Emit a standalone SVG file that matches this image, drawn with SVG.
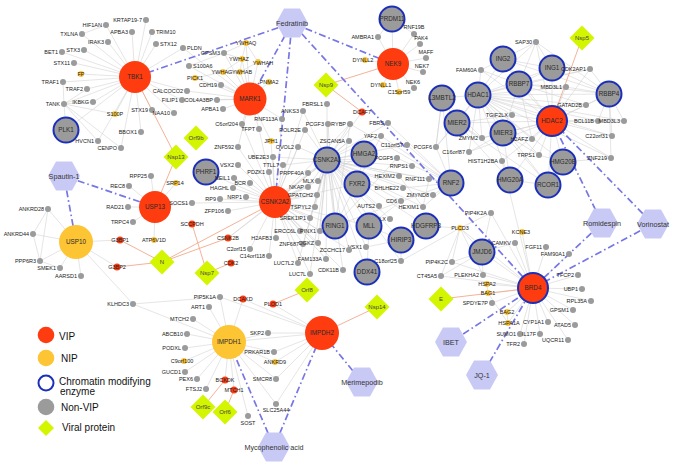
<svg xmlns="http://www.w3.org/2000/svg" xmlns:xlink="http://www.w3.org/1999/xlink" width="680" height="467" viewBox="0 0 680 467">
<style>
.gr{stroke:#cfcfcf;stroke-width:.55;fill:none}
.vr{stroke:#f3a98b;stroke-width:.9;fill:none}
.dr{stroke:#7676e4;stroke-width:1.7;stroke-dasharray:7 3 1.6 3;fill:none}
.g{fill:#9b9b9b}
.y{fill:#fdc434}
.r{fill:#fe3c10}
.cm{fill:#9b9b9b;stroke:#1b2fb9;stroke-width:2}
.rc{fill:#fe3c10;stroke:#1b2fb9;stroke-width:2}
text{font-family:"Liberation Sans",Arial,Helvetica,sans-serif;fill:#222}
.l{font-size:5.5px;text-anchor:end}
.rt{font-size:5.5px}
.c{font-size:5.5px;text-anchor:middle}
.B{font-size:6.3px;text-anchor:middle;fill:#2a2a2a}
.H{font-size:7.2px;text-anchor:middle;fill:#333}
.D{font-size:6px;text-anchor:middle;fill:#444}
.lg{font-size:10px;fill:#111}
</style>
<defs>
<polygon id="hx" points="-16,0 -8,-14.5 8,-14.5 16,0 8,14.5 -8,14.5"/>
<polygon id="dm" points="0,-12.5 12.5,0 0,12.5 -12.5,0"/>
</defs>
<rect width="680" height="467" fill="#fff"/>
<g id="connectors">
<g id="grey-edges" class="gr">
<path d="M135 77L146 20M135 77L106 25M135 77L132 32M135 77L152 32M135 77L82 34M135 77L108 42M135 77L156 44M135 77L62 52M135 77L84 50M135 77L74 63M135 77L81 74M135 77L63 82M135 77L87 89M135 77L93 102M135 77L64 104M135 77L115 114M135 77L152 110M135 77L141 132M135 77L98 141M135 77L121 148M135 77L187 91M135 77L182 100M135 77L174 113M135 77L183 48M135 77L66 130"/>
<path d="M64 104L63 82M64 104L87 89M64 104L93 102M64 104L98 141M64 104L121 148M64 104L66 130M64 104L115 114M106 25L82 34"/>
<path d="M250 99L246 43M250 99L224 53M250 99L242 59M250 99L258 62M250 99L189 66M250 99L223 72M250 99L240 72M250 99L195 78M250 99L221 85M250 99L269 82M250 99L223 109M250 99L217 100M250 99L182 100M250 99L187 91M250 99L183 48M250 99L242 124M250 99L259 129M250 99L238 147M250 99L271 141M250 99L282 119"/>
<path d="M246 43L242 59M246 43L258 62M242 59L223 72M242 59L240 72M258 62L240 72M223 72L240 72M224 53L246 43M224 53L242 59M195 78L223 72M189 66L224 53"/>
<path d="M393 64L392 19M393 64L414 34M393 64L378 37M393 64L420 44M393 64L426 58M393 64L365 60M393 64L423 72M393 64L383 85M393 64L414 88M393 64L399 92M392 19L414 34M392 19L378 37"/>
<path d="M275 202L273 157M275 202L283 165M275 202L269 172M275 202L308 173M275 202L234 178M275 202L250 183M275 202L233 188M275 202L246 197M275 202L220 199M275 202L228 211M275 202L310 218M275 202L317 195M275 202L315 207M275 202L308 187M275 202L318 181M275 202L300 231M275 202L320 231M275 202L276 238M275 202L228 238M275 202L250 249M275 202L303 244M275 202L318 243M275 202L269 256M275 202L326 259M275 202L298 263M275 202L310 274M275 202L343 270M275 202L349 250M275 202L238 165M275 202L206 172M275 202L327 160M275 202L335 226M275 202L364 154M275 202L357 184M275 202L369 226M275 202L298 147M275 202L271 141M275 202L259 129M275 202L305 130M275 202L282 119M275 202L303 111M275 202L238 147M275 202L242 124M275 202L349 141M275 202L350 124M275 202L192 203"/>
<path d="M327 160L273 157M327 160L283 165M327 160L308 173M327 160L308 187M327 160L318 181M327 160L317 195M327 160L315 207M327 160L310 218M327 160L320 231M327 160L318 243M327 160L303 244M327 160L326 259M327 160L310 274M327 160L298 263M327 160L343 270M327 160L349 250M327 160L327 104M327 160L303 111M327 160L305 130M327 160L328 124M327 160L298 147M327 160L349 141M327 160L350 124M327 160L388 123M327 160L381 136M327 160L407 145M327 160L364 154M327 160L397 158M327 160L412 166M327 160L399 176M327 160L357 184M327 160L403 188M327 160L401 201M327 160L379 206M327 160L423 207M327 160L433 195M327 160L429 179M327 160L335 226M327 160L369 226M327 160L390 219M327 160L401 240M327 160L366 247M327 160L401 261M327 160L367 272M327 160L426 226M327 160L451 183M327 160L362 112M327 160L228 238"/>
<path d="M335 226L451 183M335 226L328 124M335 226L397 158M451 183L397 158M451 183L436 147M451 183L350 124M451 183L381 136M451 183L388 123M451 183L442 98M451 183L407 145M451 183L423 207M451 183L429 179M451 183L433 195M436 147L442 98M436 147L457 123M335 226L381 136M335 226L350 124M423 207L399 176M423 207L429 179M401 240L366 247M401 240L401 261M369 226L401 240M369 226L367 272M357 184L364 154M401 201L369 226M403 188L451 183"/>
<path d="M460 228L491 213M460 228L452 262M460 228L426 226M460 228L482 252M460 228L441 276M460 228L483 275M460 228L401 261M482 252L491 213M482 252L515 243M482 252L483 275M482 252L441 276M482 252L452 262"/>
<path d="M533 288L522 232M533 288L515 243M533 288L546 247M533 288L569 254M533 288L578 275M533 288L582 289M533 288L591 301M533 288L573 310M533 288L548 322M533 288L575 325M533 288L520 334M533 288L540 334M533 288L524 344M533 288L568 340M533 288L508 323M533 288L507 312M533 288L487 284M533 288L488 293M533 288L492 303M533 288L483 275M533 288L452 262M533 288L441 276M533 288L491 213M533 288L460 228M533 288L482 252M533 288L502 161M487 284L488 293M507 312L508 323M488 293L508 323"/>
<path d="M552 121L536 42M552 121L552 68M552 121L590 69M552 121L519 84M552 121L566 87M552 121L609 94M552 121L586 105M552 121L598 121M552 121L624 121M552 121L532 139M552 121L612 136M552 121L539 155M552 121L611 158M552 121L563 162M552 121L510 180M552 121L548 185M552 121L457 123M552 121L503 133M552 121L478 95M552 121L503 59M552 121L481 70M552 121L512 115M552 121L482 138M552 121L469 152M552 121L502 161"/>
<path d="M478 95L536 42M478 95L552 68M478 95L503 59M478 95L519 84M478 95L609 94M478 95L566 87M478 95L586 105M478 95L590 69M478 95L481 70M478 95L442 98M478 95L457 123M478 95L503 133M478 95L512 115M478 95L482 138M478 95L469 152M478 95L436 147M478 95L532 139M478 95L539 155M478 95L510 180M478 95L563 162M478 95L548 185M478 95L598 121M478 95L611 158M478 95L624 121M478 95L612 136"/>
<path d="M609 94L536 42M609 94L552 68M609 94L503 59M609 94L519 84M609 94L566 87M609 94L586 105M609 94L590 69M609 94L624 121M609 94L598 121M609 94L612 136M609 94L611 158M519 84L536 42M519 84L552 68M519 84L503 59M519 84L566 87M519 84L586 105M519 84L590 69M519 84L481 70M519 84L503 133M519 84L532 139M552 68L536 42M552 68L503 59M503 59L536 42M503 59L481 70"/>
<path d="M457 123L482 138M457 123L510 180M457 123L548 185M457 123L512 115M457 123L442 98M503 133L482 138M503 133L510 180M503 133L548 185M503 133L469 152M503 133L539 155M563 162L548 185M510 180L548 185M563 162L611 158M563 162L539 155M442 98L482 138M442 98L436 147"/>
<path d="M155 207L151 176M155 207L129 186M155 207L128 207M155 207L133 222M155 207L154 240M155 207L192 203M155 207L176 183"/>
<path d="M76 242L48 209M76 242L33 234M76 242L40 261M76 242L60 268M76 242L81 276M76 242L120 240M76 242L117 267M76 242L133 304M48 209L33 234M48 209L40 261M33 234L40 261M40 261L60 268M133 304L229 342M133 304L220 297"/>
<path d="M229 342L193 319M229 342L187 334M229 342L185 348M229 342L184 361M229 342L185 372M229 342L197 379M229 342L206 389M229 342L225 380M229 342L234 390M229 342L248 416M229 342L276 404M229 342L276 379M229 342L275 362M229 342L274 352M229 342L268 333M229 342L220 297M229 342L209 307M229 342L243 299M229 342L322 333"/>
<path d="M322 333L268 333M322 333L274 352M322 333L275 362M322 333L276 379M322 333L276 404M322 333L273 304M322 333L243 299M322 333L220 297"/>
</g>
<g id="viral-edges" class="vr">
<path d="M582 38L552 121M326 85L393 64M326 85L362 112M176 157L135 77M176 157L155 207M162 262L120 240M162 262L117 267M162 262L228 238M162 262L275 202M207 273L192 224M207 273L231 263M307 290L273 304M377 307L322 333M441 299L533 288M203 407L225 380M225 412L234 390"/>
</g>
<g id="drug-edges" class="dr">
<path d="M292 23L135 77M292 23L250 99M292 23L275 202M292 23L393 64M292 23L533 288"/>
<path d="M64 176L155 207M64 176L76 242"/>
<path d="M602 223L552 121M602 223L533 288M653 224L552 121M653 224L533 288"/>
<path d="M451 342L533 288M482 375L533 288M362 382L322 333M274 447L229 342M274 447L322 333"/>
</g>
</g>
<g id="nodes">
<g id="n-TBK1"><circle class="r" cx="135" cy="77" r="16"/><text class="B" x="135" y="79.2">TBK1</text></g>
<g id="n-KRTAP19-7"><circle class="g" cx="146" cy="20" r="3"/><text class="l" x="142" y="22">KRTAP19-7</text></g>
<g id="n-HIF1AN"><circle class="g" cx="106" cy="25" r="3"/><text class="l" x="102" y="27">HIF1AN</text></g>
<g id="n-APBA3"><circle class="g" cx="132" cy="32" r="3"/><text class="l" x="128" y="34">APBA3</text></g>
<g id="n-TRIM10"><circle class="g" cx="152" cy="32" r="3"/><text class="rt" x="156" y="34">TRIM10</text></g>
<g id="n-TXLNA"><circle class="g" cx="82" cy="34" r="3"/><text class="l" x="78" y="36">TXLNA</text></g>
<g id="n-IRAK3"><circle class="g" cx="108" cy="42" r="3"/><text class="l" x="104" y="44">IRAK3</text></g>
<g id="n-STX12"><circle class="g" cx="156" cy="44" r="3"/><text class="rt" x="160" y="46">STX12</text></g>
<g id="n-BET1"><circle class="g" cx="62" cy="52" r="3"/><text class="l" x="58" y="54">BET1</text></g>
<g id="n-STX3"><circle class="g" cx="84" cy="50" r="3"/><text class="l" x="80" y="52">STX3</text></g>
<g id="n-STX11"><circle class="g" cx="74" cy="63" r="3"/><text class="l" x="70" y="65">STX11</text></g>
<g id="n-FP"><circle class="y" cx="81" cy="74" r="3"/><text class="c" x="81" y="76">FP</text></g>
<g id="n-TRAF1"><circle class="g" cx="63" cy="82" r="3"/><text class="l" x="59" y="84">TRAF1</text></g>
<g id="n-TRAF2"><circle class="g" cx="87" cy="89" r="3"/><text class="l" x="83" y="91">TRAF2</text></g>
<g id="n-IKBKG"><circle class="g" cx="93" cy="102" r="3"/><text class="l" x="89" y="104">IKBKG</text></g>
<g id="n-TANK"><circle class="g" cx="64" cy="104" r="3"/><text class="l" x="60" y="106">TANK</text></g>
<g id="n-S100P"><circle class="y" cx="115" cy="114" r="3"/><text class="c" x="115" y="116">S100P</text></g>
<g id="n-STX19"><circle class="g" cx="152" cy="110" r="3"/><text class="l" x="148" y="112">STX19</text></g>
<g id="n-NAA10"><circle class="g" cx="174" cy="113" r="3"/><text class="l" x="170" y="115">NAA10</text></g>
<g id="n-BBOX1"><circle class="g" cx="141" cy="132" r="3"/><text class="l" x="137" y="134">BBOX1</text></g>
<g id="n-PLK1"><circle class="cm" cx="66" cy="130" r="12.5"/><text class="B" x="66" y="132">PLK1</text></g>
<g id="n-HVCN1"><circle class="g" cx="98" cy="141" r="3"/><text class="l" x="94" y="143">HVCN1</text></g>
<g id="n-CENPO"><circle class="g" cx="121" cy="148" r="3"/><text class="l" x="117" y="150">CENPO</text></g>
<g id="n-CALCOCO2"><circle class="g" cx="187" cy="91" r="3"/><text class="l" x="183" y="93">CALCOCO2</text></g>
<g id="n-FILIP1"><circle class="g" cx="182" cy="100" r="3"/><text class="l" x="178" y="102">FILIP1</text></g>
<g id="n-COL4A3BP"><circle class="g" cx="217" cy="100" r="3"/><text class="l" x="213" y="102">COL4A3BP</text></g>
<g id="n-PLDN"><circle class="g" cx="183" cy="48" r="3"/><text class="rt" x="187" y="50">PLDN</text></g>
<g id="n-MARK1"><circle class="r" cx="250" cy="99" r="16.5"/><text class="B" x="250" y="101.2">MARK1</text></g>
<g id="n-YWHAQ"><circle class="y" cx="246" cy="43" r="3"/><text class="c" x="246" y="45">YWHAQ</text></g>
<g id="n-GPSM3"><circle class="g" cx="224" cy="53" r="3"/><text class="l" x="220" y="55">GPSM3</text></g>
<g id="n-YWHAZ"><circle class="y" cx="242" cy="59" r="3"/><text class="c" x="239" y="61">YWHAZ</text></g>
<g id="n-YWHAH"><circle class="y" cx="258" cy="62" r="3"/><text class="c" x="263" y="64.5">YWHAH</text></g>
<g id="n-S100A6"><circle class="g" cx="189" cy="66" r="3"/><text class="rt" x="193" y="68">S100A6</text></g>
<g id="n-YWHAG"><circle class="y" cx="223" cy="72" r="3"/><text class="c" x="222" y="74">YWHAG</text></g>
<g id="n-YWHAB"><circle class="y" cx="240" cy="72" r="3"/><text class="c" x="242" y="74">YWHAB</text></g>
<g id="n-PICK1"><circle class="y" cx="195" cy="78" r="3"/><text class="c" x="195" y="80">PICK1</text></g>
<g id="n-CDH19"><circle class="g" cx="221" cy="85" r="3"/><text class="l" x="217" y="87">CDH19</text></g>
<g id="n-PNMA2"><circle class="y" cx="269" cy="82" r="3"/><text class="c" x="269" y="84">PNMA2</text></g>
<g id="n-APBA1"><circle class="g" cx="223" cy="109" r="3"/><text class="l" x="219" y="111">APBA1</text></g>
<g id="n-C6orf204"><circle class="g" cx="242" cy="124" r="3"/><text class="l" x="238" y="126">C6orf204</text></g>
<g id="n-TFPT"><circle class="g" cx="259" cy="129" r="3"/><text class="l" x="255" y="131">TFPT</text></g>
<g id="n-RNF113A"><circle class="g" cx="282" cy="119" r="3"/><text class="l" x="278" y="121">RNF113A</text></g>
<g id="n-ANKS3"><circle class="g" cx="303" cy="111" r="3"/><text class="l" x="299" y="113">ANKS3</text></g>
<g id="n-FBRSL1"><circle class="g" cx="327" cy="104" r="3"/><text class="l" x="323" y="106">FBRSL1</text></g>
<g id="n-POLR2E"><circle class="g" cx="305" cy="130" r="3"/><text class="l" x="301" y="132">POLR2E</text></g>
<g id="n-PCGF3"><circle class="g" cx="328" cy="124" r="3"/><text class="l" x="324" y="126">PCGF3</text></g>
<g id="n-JPH1"><circle class="y" cx="271" cy="141" r="3"/><text class="c" x="271" y="143">JPH1</text></g>
<g id="n-ZNF592"><circle class="g" cx="238" cy="147" r="3"/><text class="l" x="234" y="149">ZNF592</text></g>
<g id="n-OVOL2"><circle class="g" cx="298" cy="147" r="3"/><text class="l" x="294" y="149">OVOL2</text></g>
<g id="n-UBE2E3"><circle class="g" cx="273" cy="157" r="3"/><text class="l" x="269" y="159">UBE2E3</text></g>
<g id="n-Orf9b"><use href="#dm" x="196" y="138" fill="#d3f500"/><text class="D" x="196" y="140">Orf9b</text></g>
<g id="n-Nsp9"><use href="#dm" x="326" y="85" fill="#d3f500"/><text class="D" x="326" y="87">Nsp9</text></g>
<g id="n-Fedratinib"><use href="#hx" x="292" y="23" fill="#c9c9f6"/><text class="H" x="292" y="25.5">Fedratinib</text></g>
<g id="n-NEK9"><circle class="r" cx="393" cy="64" r="16"/><text class="B" x="393" y="66.2">NEK9</text></g>
<g id="n-PRDM11"><circle class="cm" cx="392" cy="19" r="12.5"/><text class="B" x="392" y="21">PRDM11</text></g>
<g id="n-RNF19B"><circle class="g" cx="414" cy="34" r="3"/><text class="c" x="414" y="29">RNF19B</text></g>
<g id="n-AMBRA1"><circle class="g" cx="378" cy="37" r="3"/><text class="l" x="374" y="39">AMBRA1</text></g>
<g id="n-PAK4"><circle class="g" cx="420" cy="44" r="3"/><text class="c" x="421" y="39.5">PAK4</text></g>
<g id="n-MAFF"><circle class="g" cx="426" cy="58" r="3"/><text class="c" x="426" y="53.5">MAFF</text></g>
<g id="n-NEK7"><circle class="g" cx="423" cy="72" r="3"/><text class="c" x="422" y="67.5">NEK7</text></g>
<g id="n-DYNLL2"><circle class="y" cx="365" cy="60" r="3"/><text class="c" x="363" y="62">DYNLL2</text></g>
<g id="n-NEK6"><circle class="g" cx="414" cy="88" r="3"/><text class="c" x="413" y="83.5">NEK6</text></g>
<g id="n-DYNLL1"><circle class="y" cx="383" cy="85" r="3"/><text class="c" x="381" y="87">DYNLL1</text></g>
<g id="n-C15orf59"><circle class="y" cx="399" cy="92" r="3"/><text class="c" x="399" y="94">C15orf59</text></g>
<g id="n-DCAF7"><circle class="r" cx="362" cy="112" r="3.5"/><text class="c" x="362" y="114">DCAF7</text></g>
<g id="n-RYBP"><circle class="g" cx="350" cy="124" r="3"/><text class="l" x="346" y="126">RYBP</text></g>
<g id="n-FBRS"><circle class="g" cx="388" cy="123" r="3"/><text class="l" x="384" y="125">FBRS</text></g>
<g id="n-YAF2"><circle class="g" cx="381" cy="136" r="3"/><text class="l" x="377" y="138">YAF2</text></g>
<g id="n-C11orf57"><circle class="g" cx="407" cy="145" r="3"/><text class="l" x="403" y="147">C11orf57</text></g>
<g id="n-ZSCAN5A"><circle class="g" cx="349" cy="141" r="3"/><text class="l" x="345" y="143">ZSCAN5A</text></g>
<g id="n-HMGA2"><circle class="cm" cx="364" cy="154" r="12.5"/><text class="B" x="364" y="156">HMGA2</text></g>
<g id="n-PCGF5"><circle class="g" cx="397" cy="158" r="3"/><text class="l" x="393" y="160">PCGF5</text></g>
<g id="n-CSNK2A1"><circle class="cm" cx="327" cy="160" r="12.5"/><text class="B" x="327" y="162">CSNK2A1</text></g>
<g id="n-RNPS1"><circle class="g" cx="412" cy="166" r="3"/><text class="l" x="408" y="168">RNPS1</text></g>
<g id="n-HIST1H2BA"><circle class="g" cx="502" cy="161" r="3"/><text class="l" x="498" y="163">HIST1H2BA</text></g>
<g id="n-HEXIM2"><circle class="g" cx="399" cy="176" r="3"/><text class="l" x="395" y="178">HEXIM2</text></g>
<g id="n-RNF111"><circle class="g" cx="429" cy="179" r="3"/><text class="l" x="425" y="181">RNF111</text></g>
<g id="n-RNF2"><circle class="cm" cx="451" cy="183" r="12.5"/><text class="B" x="451" y="185">RNF2</text></g>
<g id="n-FXR2"><circle class="cm" cx="357" cy="184" r="12.5"/><text class="B" x="357" y="186">FXR2</text></g>
<g id="n-BHLHE22"><circle class="g" cx="403" cy="188" r="3"/><text class="l" x="399" y="190">BHLHE22</text></g>
<g id="n-ZMYND8"><circle class="g" cx="433" cy="195" r="3"/><text class="l" x="429" y="197">ZMYND8</text></g>
<g id="n-CD6"><circle class="g" cx="401" cy="201" r="3"/><text class="l" x="397" y="203">CD6</text></g>
<g id="n-HEXIM1"><circle class="g" cx="423" cy="207" r="3"/><text class="l" x="419" y="209">HEXIM1</text></g>
<g id="n-AUTS2"><circle class="g" cx="379" cy="206" r="3"/><text class="l" x="375" y="208">AUTS2</text></g>
<g id="n-PIP4K2A"><circle class="g" cx="491" cy="213" r="3"/><text class="l" x="487" y="215">PIP4K2A</text></g>
<g id="n-PLX"><circle class="g" cx="390" cy="219" r="3"/><text class="l" x="386" y="221">PLX</text></g>
<g id="n-HDGFRP3"><circle class="cm" cx="426" cy="226" r="12.5"/><text class="B" x="426" y="228">HDGFRP3</text></g>
<g id="n-PLCD3"><circle class="y" cx="460" cy="228" r="3"/><text class="c" x="460" y="230">PLCD3</text></g>
<g id="n-MLL"><circle class="cm" cx="369" cy="226" r="12.5"/><text class="B" x="369" y="228">MLL</text></g>
<g id="n-RING1"><circle class="cm" cx="335" cy="226" r="12.5"/><text class="B" x="335" y="228">RING1</text></g>
<g id="n-HIRIP3"><circle class="cm" cx="401" cy="240" r="12.5"/><text class="B" x="401" y="242">HIRIP3</text></g>
<g id="n-VSX1"><circle class="g" cx="366" cy="247" r="3"/><text class="l" x="362" y="249">VSX1</text></g>
<g id="n-JMJD6"><circle class="cm" cx="482" cy="252" r="12.5"/><text class="B" x="482" y="254">JMJD6</text></g>
<g id="n-C18orf25"><circle class="g" cx="401" cy="261" r="3"/><text class="l" x="397" y="263">C18orf25</text></g>
<g id="n-PIP4K2C"><circle class="g" cx="452" cy="262" r="3"/><text class="l" x="448" y="264">PIP4K2C</text></g>
<g id="n-DDX41"><circle class="cm" cx="367" cy="272" r="12.5"/><text class="B" x="367" y="274">DDX41</text></g>
<g id="n-CT45A5"><circle class="g" cx="441" cy="276" r="3"/><text class="l" x="437" y="278">CT45A5</text></g>
<g id="n-PLEKHA2"><circle class="g" cx="483" cy="275" r="3"/><text class="l" x="479" y="277">PLEKHA2</text></g>
<g id="n-HSPA2"><circle class="y" cx="487" cy="284" r="3"/><text class="c" x="487" y="286">HSPA2</text></g>
<g id="n-BAG1"><circle class="y" cx="488" cy="293" r="3"/><text class="c" x="488" y="295">BAG1</text></g>
<g id="n-E"><use href="#dm" x="441" y="299" fill="#d3f500"/><text class="D" x="441" y="301">E</text></g>
<g id="n-SPDYE7P"><circle class="g" cx="492" cy="303" r="3"/><text class="l" x="488" y="305">SPDYE7P</text></g>
<g id="n-Nsp14"><use href="#dm" x="377" y="307" fill="#d3f500"/><text class="D" x="377" y="309">Nsp14</text></g>
<g id="n-KCNE3"><circle class="y" cx="522" cy="232" r="3"/><text class="c" x="521" y="234">KCNE3</text></g>
<g id="n-CAMKV"><circle class="g" cx="515" cy="243" r="3"/><text class="l" x="511" y="245">CAMKV</text></g>
<g id="n-FGF11"><circle class="g" cx="546" cy="247" r="3"/><text class="l" x="542" y="249">FGF11</text></g>
<g id="n-FAM90A1"><circle class="g" cx="569" cy="254" r="3"/><text class="l" x="565" y="256">FAM90A1</text></g>
<g id="n-BRD4"><circle class="rc" cx="533" cy="288" r="15"/><text class="B" x="533" y="290.2">BRD4</text></g>
<g id="n-TFCP2"><circle class="g" cx="578" cy="275" r="3"/><text class="l" x="574" y="277">TFCP2</text></g>
<g id="n-UBP1"><circle class="g" cx="582" cy="289" r="3"/><text class="l" x="578" y="291">UBP1</text></g>
<g id="n-RPL35A"><circle class="g" cx="591" cy="301" r="3"/><text class="l" x="587" y="303">RPL35A</text></g>
<g id="n-GPSM1"><circle class="g" cx="573" cy="310" r="3"/><text class="l" x="569" y="312">GPSM1</text></g>
<g id="n-CYP1A1"><circle class="g" cx="548" cy="322" r="3"/><text class="l" x="544" y="324">CYP1A1</text></g>
<g id="n-ATAD5"><circle class="g" cx="575" cy="325" r="3"/><text class="l" x="571" y="327">ATAD5</text></g>
<g id="n-HSPA1A"><circle class="y" cx="508" cy="323" r="3"/><text class="c" x="509" y="325">HSPA1A</text></g>
<g id="n-BAG2"><circle class="y" cx="507" cy="312" r="3"/><text class="c" x="507" y="314">BAG2</text></g>
<g id="n-SUMO1"><circle class="g" cx="520" cy="334" r="3"/><text class="l" x="516" y="336">SUMO1</text></g>
<g id="n-IL17F"><circle class="g" cx="540" cy="334" r="3"/><text class="l" x="536" y="336">IL17F</text></g>
<g id="n-TFR2"><circle class="g" cx="524" cy="344" r="3"/><text class="l" x="520" y="346">TFR2</text></g>
<g id="n-UQCR11"><circle class="g" cx="568" cy="340" r="3"/><text class="l" x="564" y="342">UQCR11</text></g>
<g id="n-Romidespin"><use href="#hx" x="602" y="223" fill="#c9c9f6"/><text class="H" x="602" y="225.5">Romidespin</text></g>
<g id="n-Vorinostat"><use href="#hx" x="653" y="224" fill="#c9c9f6"/><text class="H" x="653" y="226.5">Vorinostat</text></g>
<g id="n-IBET"><use href="#hx" x="451" y="342" fill="#c9c9f6"/><text class="H" x="451" y="344.5">IBET</text></g>
<g id="n-JQ-1"><use href="#hx" x="482" y="375" fill="#c9c9f6"/><text class="H" x="482" y="377.5">JQ-1</text></g>
<g id="n-ING2"><circle class="cm" cx="503" cy="59" r="12.5"/><text class="B" x="503" y="61">ING2</text></g>
<g id="n-FAM60A"><circle class="g" cx="481" cy="70" r="3"/><text class="l" x="477" y="72">FAM60A</text></g>
<g id="n-L3MBTL2"><circle class="cm" cx="442" cy="98" r="12.5"/><text class="B" x="442" y="100">L3MBTL2</text></g>
<g id="n-HDAC1"><circle class="cm" cx="478" cy="95" r="12.5"/><text class="B" x="478" y="97">HDAC1</text></g>
<g id="n-MIER2"><circle class="cm" cx="457" cy="123" r="12.5"/><text class="B" x="457" y="125">MIER2</text></g>
<g id="n-MIER3"><circle class="cm" cx="503" cy="133" r="12.5"/><text class="B" x="503" y="135">MIER3</text></g>
<g id="n-TGIF2LX"><circle class="g" cx="512" cy="115" r="3"/><text class="l" x="508" y="117">TGIF2LX</text></g>
<g id="n-ZMYM2"><circle class="g" cx="482" cy="138" r="3"/><text class="l" x="478" y="140">ZMYM2</text></g>
<g id="n-C16orf87"><circle class="g" cx="469" cy="152" r="3"/><text class="l" x="465" y="154">C16orf87</text></g>
<g id="n-PCGF6"><circle class="g" cx="436" cy="147" r="3"/><text class="l" x="432" y="149">PCGF6</text></g>
<g id="n-Nsp5"><use href="#dm" x="582" y="38" fill="#d3f500"/><text class="D" x="582" y="40">Nsp5</text></g>
<g id="n-SAP30"><circle class="g" cx="536" cy="42" r="3"/><text class="l" x="532" y="44">SAP30</text></g>
<g id="n-ING1"><circle class="cm" cx="552" cy="68" r="12.5"/><text class="B" x="552" y="70">ING1</text></g>
<g id="n-CDK2AP1"><circle class="g" cx="590" cy="69" r="3"/><text class="l" x="586" y="71">CDK2AP1</text></g>
<g id="n-RBBP7"><circle class="cm" cx="519" cy="84" r="12.5"/><text class="B" x="519" y="86">RBBP7</text></g>
<g id="n-MBD3L1"><circle class="g" cx="566" cy="87" r="3"/><text class="l" x="562" y="89">MBD3L1</text></g>
<g id="n-RBBP4"><circle class="cm" cx="609" cy="94" r="12.5"/><text class="B" x="609" y="96">RBBP4</text></g>
<g id="n-GATAD2B"><circle class="g" cx="586" cy="105" r="3"/><text class="l" x="582" y="107">GATAD2B</text></g>
<g id="n-HDAC2"><circle class="rc" cx="552" cy="121" r="15"/><text class="B" x="552" y="123.2">HDAC2</text></g>
<g id="n-BCL11B"><circle class="g" cx="598" cy="121" r="3"/><text class="l" x="594" y="123">BCL11B</text></g>
<g id="n-MBD3L3"><circle class="g" cx="624" cy="121" r="3"/><text class="l" x="620" y="123">MBD3L3</text></g>
<g id="n-H2AFZ"><circle class="g" cx="532" cy="139" r="3"/><text class="l" x="528" y="141">H2AFZ</text></g>
<g id="n-C22orf31"><circle class="g" cx="612" cy="136" r="3"/><text class="l" x="608" y="138">C22orf31</text></g>
<g id="n-TRPS1"><circle class="g" cx="539" cy="155" r="3"/><text class="l" x="535" y="157">TRPS1</text></g>
<g id="n-ZNF219"><circle class="g" cx="611" cy="158" r="3"/><text class="l" x="607" y="160">ZNF219</text></g>
<g id="n-HMG20B"><circle class="cm" cx="563" cy="162" r="12.5"/><text class="B" x="563" y="164">HMG20B</text></g>
<g id="n-HMG20A"><circle class="cm" cx="510" cy="180" r="12.5"/><text class="B" x="510" y="182">HMG20A</text></g>
<g id="n-RCOR1"><circle class="cm" cx="548" cy="185" r="12.5"/><text class="B" x="548" y="187">RCOR1</text></g>
<g id="n-Spautin-1"><use href="#hx" x="64" y="176" fill="#c9c9f6"/><text class="H" x="64" y="178.5">Spautin-1</text></g>
<g id="n-RPP25"><circle class="g" cx="151" cy="176" r="3"/><text class="l" x="147" y="178">RPP25</text></g>
<g id="n-REC8"><circle class="g" cx="129" cy="186" r="3"/><text class="l" x="125" y="188">REC8</text></g>
<g id="n-SRP14"><circle class="y" cx="176" cy="183" r="3"/><text class="c" x="175" y="185">SRP14</text></g>
<g id="n-Nsp13"><use href="#dm" x="176" y="157" fill="#d3f500"/><text class="D" x="176" y="159">Nsp13</text></g>
<g id="n-USP13"><circle class="r" cx="155" cy="207" r="16"/><text class="B" x="155" y="209.2">USP13</text></g>
<g id="n-SOCS1"><circle class="g" cx="192" cy="203" r="3"/><text class="l" x="188" y="205">SOCS1</text></g>
<g id="n-RAD21"><circle class="g" cx="128" cy="207" r="3"/><text class="l" x="124" y="209">RAD21</text></g>
<g id="n-ANKRD28"><circle class="g" cx="48" cy="209" r="3"/><text class="l" x="44" y="211">ANKRD28</text></g>
<g id="n-TRPC4"><circle class="g" cx="133" cy="222" r="3"/><text class="l" x="129" y="224">TRPC4</text></g>
<g id="n-ANKRD44"><circle class="g" cx="33" cy="234" r="3"/><text class="l" x="29" y="236">ANKRD44</text></g>
<g id="n-USP10"><circle class="y" cx="76" cy="242" r="17"/><text class="B" x="76" y="244.2">USP10</text></g>
<g id="n-G3BP1"><circle class="r" cx="120" cy="240" r="3.5"/><text class="c" x="120" y="242">G3BP1</text></g>
<g id="n-ATP6V1D"><circle class="y" cx="154" cy="240" r="3"/><text class="c" x="154" y="242">ATP6V1D</text></g>
<g id="n-N"><use href="#dm" x="162" y="262" fill="#d3f500"/><text class="D" x="162" y="264">N</text></g>
<g id="n-PPP6R3"><circle class="g" cx="40" cy="261" r="3"/><text class="l" x="36" y="263">PPP6R3</text></g>
<g id="n-SMEK1"><circle class="g" cx="60" cy="268" r="3"/><text class="l" x="56" y="270">SMEK1</text></g>
<g id="n-G3BP2"><circle class="r" cx="117" cy="267" r="3.5"/><text class="c" x="117" y="269">G3BP2</text></g>
<g id="n-AARSD1"><circle class="g" cx="81" cy="276" r="3"/><text class="l" x="77" y="278">AARSD1</text></g>
<g id="n-KLHDC3"><circle class="g" cx="133" cy="304" r="3"/><text class="l" x="129" y="306">KLHDC3</text></g>
<g id="n-SCCPDH"><circle class="r" cx="192" cy="224" r="3.5"/><text class="c" x="192" y="226">SCCPDH</text></g>
<g id="n-CSNK2B"><circle class="r" cx="228" cy="238" r="3.5"/><text class="c" x="228" y="240">CSNK2B</text></g>
<g id="n-CDK2"><circle class="r" cx="231" cy="263" r="3.5"/><text class="c" x="231" y="265">CDK2</text></g>
<g id="n-PHRF1"><circle class="cm" cx="206" cy="172" r="12.5"/><text class="B" x="206" y="174">PHRF1</text></g>
<g id="n-VSX2"><circle class="g" cx="238" cy="165" r="3"/><text class="l" x="234" y="167">VSX2</text></g>
<g id="n-TTLL7"><circle class="g" cx="283" cy="165" r="3"/><text class="l" x="279" y="167">TTLL7</text></g>
<g id="n-PDZK1"><circle class="g" cx="269" cy="172" r="3"/><text class="l" x="265" y="174">PDZK1</text></g>
<g id="n-PRPF40A"><circle class="g" cx="308" cy="173" r="3"/><text class="l" x="304" y="175">PRPF40A</text></g>
<g id="n-NEIL1"><circle class="g" cx="234" cy="178" r="3"/><text class="l" x="230" y="180">NEIL1</text></g>
<g id="n-BCR"><circle class="g" cx="250" cy="183" r="3"/><text class="l" x="246" y="185">BCR</text></g>
<g id="n-HAGHL"><circle class="g" cx="233" cy="188" r="3"/><text class="l" x="229" y="190">HAGHL</text></g>
<g id="n-CSNK2A2"><circle class="r" cx="275" cy="202" r="16"/><text class="B" x="275" y="204.2">CSNK2A2</text></g>
<g id="n-NKAP"><circle class="g" cx="308" cy="187" r="3"/><text class="l" x="304" y="189">NKAP</text></g>
<g id="n-MLX"><circle class="g" cx="318" cy="181" r="3"/><text class="l" x="314" y="183">MLX</text></g>
<g id="n-GPATCH2"><circle class="g" cx="317" cy="195" r="3"/><text class="l" x="313" y="197">GPATCH2</text></g>
<g id="n-TSPYL2"><circle class="g" cx="315" cy="207" r="3"/><text class="l" x="311" y="209">TSPYL2</text></g>
<g id="n-ZFP106"><circle class="g" cx="228" cy="211" r="3"/><text class="l" x="224" y="213">ZFP106</text></g>
<g id="n-NRP1"><circle class="g" cx="246" cy="197" r="3"/><text class="l" x="242" y="199">NRP1</text></g>
<g id="n-RP9"><circle class="g" cx="220" cy="199" r="3"/><text class="l" x="216" y="201">RP9</text></g>
<g id="n-SREK1IP1"><circle class="g" cx="310" cy="218" r="3"/><text class="l" x="306" y="220">SREK1IP1</text></g>
<g id="n-ERCC6L"><circle class="g" cx="300" cy="231" r="3"/><text class="l" x="296" y="233">ERCC6L</text></g>
<g id="n-PINX1"><circle class="g" cx="320" cy="231" r="3"/><text class="l" x="316" y="233">PINX1</text></g>
<g id="n-H2AFB3"><circle class="g" cx="276" cy="238" r="3"/><text class="l" x="272" y="240">H2AFB3</text></g>
<g id="n-C2orf15"><circle class="g" cx="250" cy="249" r="3"/><text class="l" x="246" y="251">C2orf15</text></g>
<g id="n-ZNF687"><circle class="g" cx="303" cy="244" r="3"/><text class="l" x="299" y="246">ZNF687</text></g>
<g id="n-DGKZ"><circle class="g" cx="318" cy="243" r="3"/><text class="l" x="314" y="245">DGKZ</text></g>
<g id="n-ZCCHC17"><circle class="g" cx="349" cy="250" r="3"/><text class="l" x="345" y="252">ZCCHC17</text></g>
<g id="n-C14orf118"><circle class="g" cx="269" cy="256" r="3"/><text class="l" x="265" y="258">C14orf118</text></g>
<g id="n-FAM133A"><circle class="g" cx="326" cy="259" r="3"/><text class="l" x="322" y="261">FAM133A</text></g>
<g id="n-LUC7L2"><circle class="g" cx="298" cy="263" r="3"/><text class="l" x="294" y="265">LUC7L2</text></g>
<g id="n-LUC7L"><circle class="g" cx="310" cy="274" r="3"/><text class="l" x="306" y="276">LUC7L</text></g>
<g id="n-CDK11B"><circle class="g" cx="343" cy="270" r="3"/><text class="l" x="339" y="272">CDK11B</text></g>
<g id="n-Nsp7"><use href="#dm" x="207" y="273" fill="#d3f500"/><text class="D" x="207" y="275">Nsp7</text></g>
<g id="n-Orf8"><use href="#dm" x="307" y="290" fill="#d3f500"/><text class="D" x="307" y="292">Orf8</text></g>
<g id="n-PIP5K1A"><circle class="g" cx="220" cy="297" r="3"/><text class="l" x="216" y="299">PIP5K1A</text></g>
<g id="n-DCAKD"><circle class="r" cx="243" cy="299" r="3.5"/><text class="c" x="243" y="301">DCAKD</text></g>
<g id="n-PLOD1"><circle class="r" cx="273" cy="304" r="3.5"/><text class="c" x="273" y="306">PLOD1</text></g>
<g id="n-ART1"><circle class="g" cx="209" cy="307" r="3"/><text class="l" x="205" y="309">ART1</text></g>
<g id="n-MTCH2"><circle class="g" cx="193" cy="319" r="3"/><text class="l" x="189" y="321">MTCH2</text></g>
<g id="n-ABCB10"><circle class="g" cx="187" cy="334" r="3"/><text class="l" x="183" y="336">ABCB10</text></g>
<g id="n-IMPDH1"><circle class="y" cx="229" cy="342" r="17"/><text class="B" x="229" y="344.2">IMPDH1</text></g>
<g id="n-SKP2"><circle class="g" cx="268" cy="333" r="3"/><text class="l" x="264" y="335">SKP2</text></g>
<g id="n-IMPDH2"><circle class="r" cx="322" cy="333" r="17"/><text class="B" x="322" y="335.2">IMPDH2</text></g>
<g id="n-PODXL"><circle class="g" cx="185" cy="348" r="3"/><text class="l" x="181" y="350">PODXL</text></g>
<g id="n-PRKAR1B"><circle class="g" cx="274" cy="352" r="3"/><text class="l" x="270" y="354">PRKAR1B</text></g>
<g id="n-C9orf100"><circle class="y" cx="184" cy="361" r="3"/><text class="c" x="182" y="363">C9orf100</text></g>
<g id="n-ANKRD9"><circle class="y" cx="275" cy="362" r="3"/><text class="c" x="275" y="364">ANKRD9</text></g>
<g id="n-GUCD1"><circle class="g" cx="185" cy="372" r="3"/><text class="l" x="181" y="374">GUCD1</text></g>
<g id="n-PEX6"><circle class="g" cx="197" cy="379" r="3"/><text class="l" x="193" y="381">PEX6</text></g>
<g id="n-BCKDK"><circle class="r" cx="225" cy="380" r="3.5"/><text class="c" x="225" y="382">BCKDK</text></g>
<g id="n-SMCR8"><circle class="g" cx="276" cy="379" r="3"/><text class="l" x="272" y="381">SMCR8</text></g>
<g id="n-FTSJ2"><circle class="g" cx="206" cy="389" r="3"/><text class="l" x="202" y="391">FTSJ2</text></g>
<g id="n-MTCH1"><circle class="r" cx="234" cy="390" r="3.5"/><text class="c" x="234" y="392">MTCH1</text></g>
<g id="n-Orf9c"><use href="#dm" x="203" y="407" fill="#d3f500"/><text class="D" x="203" y="409">Orf9c</text></g>
<g id="n-Orf6"><use href="#dm" x="225" y="412" fill="#d3f500"/><text class="D" x="225" y="414">Orf6</text></g>
<g id="n-SLC25A44"><circle class="g" cx="276" cy="404" r="3"/><text class="c" x="276" y="411.5">SLC25A44</text></g>
<g id="n-SOST"><circle class="g" cx="248" cy="416" r="3"/><text class="c" x="248" y="425">SOST</text></g>
<g id="n-Mycophenolic-acid"><use href="#hx" x="274" y="447" fill="#c9c9f6"/><text class="H" x="274" y="449.5">Mycophenolic acid</text></g>
<g id="n-Merimepodib"><use href="#hx" x="362" y="382" fill="#c9c9f6"/><text class="H" x="362" y="384.5">Merimepodib</text></g>
</g>
<g id="legend">
<circle cx="46" cy="335" r="8.3" fill="#fe3c10"/><text class="lg" x="59" y="339.5">VIP</text>
<circle cx="46" cy="358" r="8.3" fill="#fdc434"/><text class="lg" x="61" y="361.5">NIP</text>
<circle cx="46" cy="383" r="7.5" fill="#fff" stroke="#1b2fb9" stroke-width="2"/><text class="lg" x="59" y="384.5">Chromatin modifying</text><text class="lg" x="60" y="395">enzyme</text>
<circle cx="46" cy="407" r="8.3" fill="#9b9b9b"/><text class="lg" x="61" y="411">Non-VIP</text>
<polygon points="46,420 54,428 46,436 38,428" fill="#d3f500"/><text class="lg" x="62" y="431">Viral protein</text>
</g>
</svg>
